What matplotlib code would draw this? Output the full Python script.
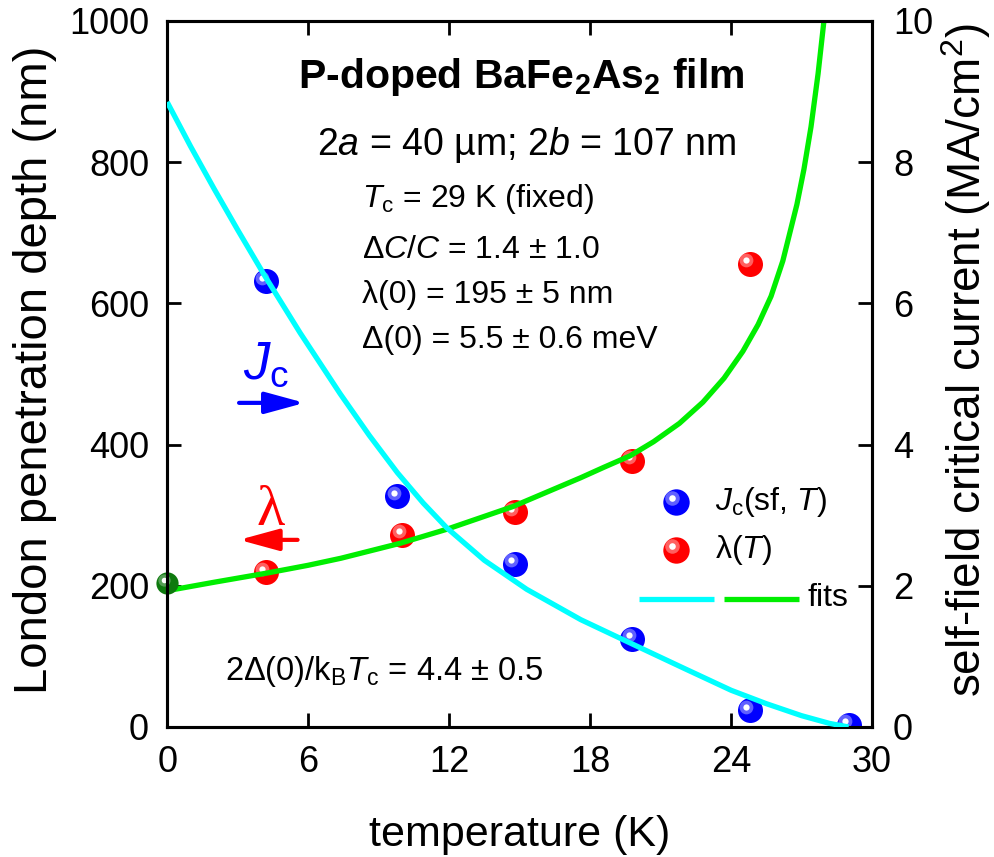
import numpy as np
import matplotlib
matplotlib.use("Agg")
import matplotlib.pyplot as plt
import matplotlib.transforms as mtransforms

plt.rcParams['font.family'] = ['Liberation Sans', 'DejaVu Sans']
plt.rcParams['mathtext.fontset'] = 'custom'
plt.rcParams['mathtext.rm'] = 'Liberation Sans'
plt.rcParams['mathtext.it'] = 'Liberation Sans:italic'
plt.rcParams['mathtext.bf'] = 'Liberation Sans:bold'

# -------------------- data --------------------
T_lam = [4.2, 10.0, 14.8, 19.8, 24.8]
lam = [219, 272, 304, 377, 656]           # nm, left axis

T_jc = [4.2, 9.8, 14.8, 19.8, 24.8, 29.0]
jc = [6.31, 3.27, 2.31, 1.25, 0.24, 0.03]  # MA/cm^2, right axis

T_lam0 = [0.0]
lam0 = [204]

# fit curves
T_lam_fit = [0.0, 2.0, 4.25, 6.0, 7.4, 9.9, 11.9, 14.7, 17.6, 18.6, 19.7, 20.7,
             21.8, 22.8, 23.7, 24.5, 25.15, 25.7, 26.2, 26.8, 27.1, 27.4, 27.7, 27.95]
lam_fit = [193, 205, 218, 229, 239, 260, 280, 312, 353, 368, 384, 404,
           430, 460, 494, 532, 570, 610, 660, 740, 790, 850, 925, 1000]

T_jc_fit = [0.0, 1.0, 2.0, 3.0, 4.17, 5.66, 7.36, 8.6, 9.8, 10.9, 11.9, 13.5,
            15.3, 17.6, 19.7, 22.0, 24.0, 25.5, 27.0, 28.2, 29.0]
jc_fit = [8.85, 8.22, 7.62, 7.04, 6.38, 5.58, 4.72, 4.13, 3.60, 3.17, 2.82, 2.36,
          1.95, 1.52, 1.19, 0.83, 0.52, 0.33, 0.16, 0.05, 0.0]

x_ticks = [0, 6, 12, 18, 24, 30]
left_ticks = [0, 200, 400, 600, 800, 1000]
right_ticks = [0, 2, 4, 6, 8, 10]

CYAN = '#00FFFF'
GREEN = '#00EE00'
BLUE = '#0000FF'
RED = '#FF0000'


def balls(axis, fig, x, y, color, light, size, z=3, **kw):
    """shaded sphere markers"""
    axis.plot(x, y, 'o', ms=size, mfc=color, mec=color, mew=0, zorder=z, **kw)
    tr = mtransforms.offset_copy(kw.get('transform', axis.transData), fig=fig,
                                 x=-size * 0.14, y=size * 0.14, units='points')
    kw.pop('transform', None)
    axis.plot(x, y, 'o', ms=size * 0.55, mfc=light, mec='none', alpha=0.55,
              transform=tr, zorder=z, **kw)
    axis.plot(x, y, 'o', ms=size * 0.25, mfc='white', mec='none',
              transform=tr, zorder=z, **kw)


fig = plt.figure(figsize=(9.95, 8.57), dpi=100)
ax = fig.add_axes([0.168, 0.1517, 0.7085, 0.824])
ax2 = ax.twinx()

# left axis: lambda
balls(ax, fig, T_lam, lam, RED, '#FFB0B0', 18, z=2)
ax.plot(T_lam_fit, lam_fit, color=GREEN, lw=3.8, zorder=3, solid_capstyle='butt')
balls(ax, fig, T_lam0, lam0, '#0E7A0E', '#90C090', 16, z=4, clip_on=False)

# right axis: Jc
balls(ax2, fig, T_jc, jc, BLUE, '#B0B0FF', 18, z=2)
ax2.plot(T_jc_fit, jc_fit, color=CYAN, lw=3.8, zorder=3, solid_capstyle='butt')

ax.set_xlim(0, 30)
ax.set_ylim(0, 1000)
ax2.set_ylim(0, 10)
ax.set_xticks(x_ticks)
ax.set_yticks(left_ticks)
ax2.set_yticks(right_ticks)

for a in (ax, ax2):
    for s in a.spines.values():
        s.set_linewidth(2.2)
ax.tick_params(axis='both', direction='in', length=10, width=2, labelsize=26,
               top=True, right=False, pad=13)
ax2.tick_params(axis='y', direction='in', length=10, width=2, labelsize=26, pad=15)

ax.set_xlabel('temperature (K)', fontsize=31)
ax.set_ylabel('London penetration depth (nm)', fontsize=34, va='center')
ax2.set_ylabel('self-field critical current (MA/cm$^2$)', fontsize=33, va='center')
ax.xaxis.set_label_coords(0.5, -0.125)
ax.yaxis.set_label_coords(-0.187, 0.506)
ax2.yaxis.set_label_coords(1.133, 0.519)

# annotations
ta = ax2.transAxes
ax2.text(0.502, 0.905, 'P-doped BaFe$_\\mathbf{2}$As$_\\mathbf{2}$ film', transform=ta,
         fontsize=29.5, fontweight='bold', ha='center', va='baseline')
ax2.text(0.510, 0.810, '2$a$ = 40 \u00b5m; 2$b$ = 107 nm', transform=ta,
         fontsize=27, ha='center', va='baseline')
info = ['$T_\\mathrm{c}$ = 29 K (fixed)',
        '\u0394$C$/$C$ = 1.4 \u00b1 1.0',
        '\u03bb(0) = 195 \u00b1 5 nm',
        '\u0394(0) = 5.5 \u00b1 0.6 meV']
for s, yy in zip(info, [0.737, 0.664, 0.601, 0.537]):
    ax2.text(0.277, yy, s, transform=ta, fontsize=23, ha='left', va='baseline')
ax2.text(0.082, 0.067, '2\u0394(0)/k$_\\mathrm{B}$$T_\\mathrm{c}$ = 4.4 \u00b1 0.5',
         transform=ta, fontsize=23.5, ha='left', va='baseline')

# axis pointers
arrow = dict(arrowstyle='-|>,head_length=1.1,head_width=0.3', lw=3,
             mutation_scale=22, shrinkA=0, shrinkB=0)
ax2.text(0.108, 0.494, '$J_\\mathrm{c}$', transform=ta, fontsize=38, color=BLUE,
         ha='left', va='baseline')
ax2.annotate('', xy=(0.195, 0.459), xytext=(0.102, 0.459), xycoords=ta,
             arrowprops=dict(color=BLUE, **arrow))
ax2.text(0.127, 0.286, '\u03bb', transform=ta, fontsize=42, color=RED,
         family=['Liberation Serif', 'DejaVu Serif'], ha='left', va='baseline')
ax2.annotate('', xy=(0.102, 0.265), xytext=(0.185, 0.265), xycoords=ta,
             arrowprops=dict(color=RED, **arrow))

# legend (drawn by hand)
for yy, col, light, lab in [(0.319, BLUE, '#B0B0FF', '$J_\\mathrm{c}$(sf, $T$)'),
                            (0.251, RED, '#FFB0B0', '\u03bb($T$)')]:
    balls(ax2, fig, [0.722], [yy], col, light, 19, z=5, transform=ta)
    ax2.text(0.777, yy, lab, transform=ta, fontsize=23, ha='left', va='center')
ax2.plot([0.670, 0.776], [0.181, 0.181], color=CYAN, lw=3.8, transform=ta,
         solid_capstyle='butt')
ax2.plot([0.790, 0.896], [0.181, 0.181], color=GREEN, lw=3.8, transform=ta,
         solid_capstyle='butt')
ax2.text(0.909, 0.183, 'fits', transform=ta, fontsize=23, ha='left', va='center')

fig.savefig('out.png', dpi=100)
